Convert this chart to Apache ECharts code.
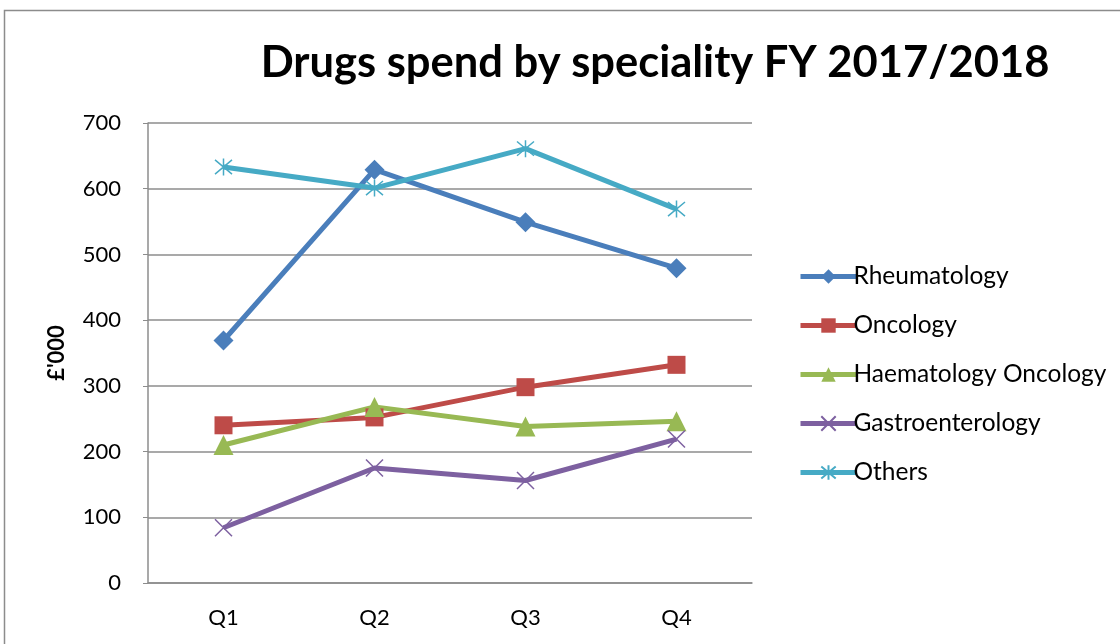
<!DOCTYPE html>
<html>
<head>
<meta charset="utf-8">
<script src="https://cdn.jsdelivr.net/npm/echarts@6/dist/echarts.min.js"></script>
<style>
  html, body { margin: 0; padding: 0; background: #ffffff; }
  #chart { width: 1120px; height: 644px; }
</style>
</head>
<body>
<div id="chart"></div>
<script>
// Quarterly drugs spend (£'000) by speciality, FY 2017/2018
const quarters = ['Q1', 'Q2', 'Q3', 'Q4'];
const rheumatology = [369, 629, 549, 479];
const oncology = [240, 252, 298, 332];
const haematologyOncology = [210, 268, 238, 246];
const gastroenterology = [84, 175, 156, 219];
const others = [633, 601, 661, 569];

const FONT = 'Lato, "Open Sans", sans-serif';

// Thin cross and asterisk markers drawn as stroked paths
const crossPath = 'path://M0,0L10,10M10,0L0,10';
const starPath = 'path://M0,0L10,10M10,0L0,10M5,-1L5,11';

function lineSeries(name, data, color, symbol, size, stroked) {
  const s = {
    name: name,
    type: 'line',
    data: data,
    symbol: symbol,
    symbolSize: size,
    lineStyle: { color: color, width: 5 },
    itemStyle: { color: color },
    emphasis: { disabled: true },
    z: 2
  };
  if (stroked) {
    s.itemStyle = { color: 'rgba(0,0,0,0)', borderColor: color, borderWidth: 1.5 };
  }
  return s;
}

const chart = echarts.init(document.getElementById('chart'), null, { renderer: 'canvas' });
chart.setOption({
  animation: false,
  backgroundColor: '#ffffff',
  color: ['#4A7EBB', '#BE4B48', '#98B954', '#7D60A0', '#46AAC5'],
  title: {
    text: 'Drugs spend by speciality FY 2017/2018',
    left: 650,
    textAlign: 'center',
    top: 36,
    textStyle: { fontFamily: FONT, fontSize: 43.5, fontWeight: 'bold', color: '#000000' }
  },
  graphic: [{
    type: 'rect',
    shape: { x: 4.5, y: 10.5, width: 1130, height: 660 },
    style: { fill: 'none', stroke: '#8c8c8c', lineWidth: 1.5 },
    silent: true,
    z: -1
  }],
  grid: { left: 148, right: 368, top: 123, bottom: 61, containLabel: false },
  legend: {
    orient: 'vertical',
    left: 793,
    top: 259,
    itemWidth: 56,
    itemHeight: 18,
    itemGap: 24,
    lineStyle: { width: 5 },
    textStyle: { fontFamily: FONT, fontSize: 24.5, color: '#000000', padding: [0, 0, 0, -8] },
    data: ['Rheumatology', 'Oncology', 'Haematology Oncology', 'Gastroenterology', 'Others']
  },
  xAxis: {
    type: 'category',
    data: quarters,
    boundaryGap: true,
    axisLine: { lineStyle: { color: '#8c8c8c', width: 1.5 } },
    axisTick: { show: false },
    axisLabel: { fontFamily: FONT, fontSize: 22, color: '#000000', margin: 24 }
  },
  yAxis: {
    type: 'value',
    min: 0,
    max: 700,
    interval: 100,
    name: "£'000",
    nameLocation: 'middle',
    nameRotate: 90,
    nameGap: 80,
    nameTextStyle: { fontFamily: FONT, fontSize: 22, fontWeight: 'bold', color: '#000000' },
    axisLine: { show: true, lineStyle: { color: '#8c8c8c', width: 1.5 } },
    axisTick: { show: true, length: 5, inside: false, lineStyle: { color: '#8c8c8c' } },
    splitLine: { lineStyle: { color: '#8c8c8c', width: 1.5 } },
    axisLabel: { fontFamily: FONT, fontSize: 22, color: '#000000', margin: 27 }
  },
  series: [
    lineSeries('Rheumatology', rheumatology, '#4A7EBB', 'diamond', 20, false),
    lineSeries('Oncology', oncology, '#BE4B48', 'rect', 18, false),
    lineSeries('Haematology Oncology', haematologyOncology, '#98B954', 'triangle', 20, false),
    lineSeries('Gastroenterology', gastroenterology, '#7D60A0', crossPath, 17, true),
    lineSeries('Others', others, '#46AAC5', starPath, 17, true)
  ]
});
</script>
</body>
</html>
